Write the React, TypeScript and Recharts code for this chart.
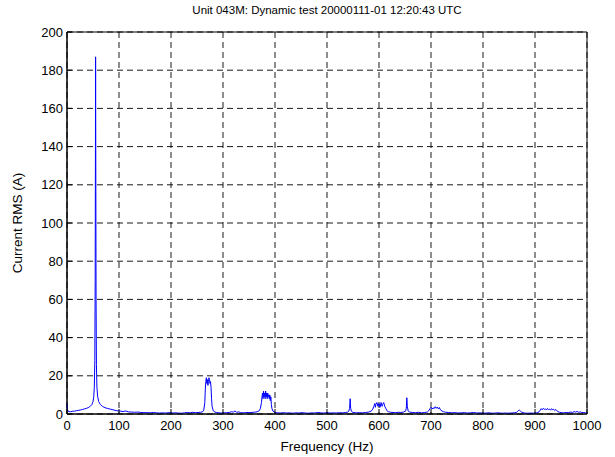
import React from 'react';
import {
  LineChart,
  Line,
  XAxis,
  YAxis,
  CartesianGrid,
  ReferenceArea,
} from 'recharts';

const title = 'Unit 043M: Dynamic test 20000111-01 12:20:43 UTC';
const xLabel = 'Frequency (Hz)';
const yLabel = 'Current RMS (A)';

const xTicks = [0, 100, 200, 300, 400, 500, 600, 700, 800, 900, 1000];
const yTicks = [0, 20, 40, 60, 80, 100, 120, 140, 160, 180, 200];

// spectrum samples (frequency in Hz, current in A)
const freqHz = [
  0, 1, 2, 4, 7, 10, 14, 18, 22, 26, 30, 34, 38, 42, 45, 48, 50, 51.5, 52.5, 53.5,
  54.2, 54.7, 55, 55.4, 55.9, 56.6, 57.5, 59, 61, 64, 68, 73, 78, 84, 90, 96, 102, 108, 113, 118,
  124, 130, 136, 142, 148, 154, 160, 166, 172, 178, 184, 190, 196, 202, 208, 214, 220, 226, 232, 237,
  242, 247, 252, 257, 261, 263, 265, 266, 267, 268, 269, 270, 271, 272, 273, 274, 275, 276, 277, 278,
  279, 281, 283, 287, 292, 297, 302, 307, 312, 316, 320, 323, 326, 330, 334, 340, 346, 352, 358, 363,
  367, 370, 372, 374, 375, 376, 377, 378, 379, 380, 381, 382, 383, 384, 385, 386, 387, 388, 389, 390,
  391, 392, 393, 394, 396, 400, 405, 410, 416, 422, 428, 434, 440, 446, 452, 458, 464, 470, 476, 482,
  488, 494, 500, 506, 512, 518, 524, 530, 536, 540, 542, 543.5, 544.5, 545.5, 547, 550, 556, 562, 568, 574,
  580, 585, 588, 590, 592, 593, 594, 596, 598, 600, 602, 604, 606, 607, 609, 611, 613, 615, 618, 622,
  627, 632, 637, 642, 647, 651, 652.5, 653.5, 654.5, 656, 659, 664, 670, 676, 682, 688, 693, 696, 698, 700,
  702, 704, 706, 708, 710, 712, 714, 716, 718, 721, 724, 728, 734, 740, 746, 752, 758, 764, 770, 776,
  782, 788, 794, 800, 806, 812, 818, 824, 830, 836, 842, 848, 854, 860, 864, 866, 868, 870, 872, 875,
  880, 886, 892, 898, 904, 908, 910, 912, 914, 916, 918, 920, 922, 924, 926, 928, 930, 932, 934, 936,
  938, 940, 942, 944, 947, 950, 955, 960, 964, 968, 972, 975, 978, 981, 984, 987, 990, 994, 997, 1000,
];

const rmsA = [
  5.5, 2.2, 1.5, 1.3, 1.2, 1.4, 1.5, 1.7, 1.9, 2.1, 2.4, 2.7, 3.0, 3.5, 4.1, 5.0, 6.5, 9, 14, 28,
  70, 140, 187, 130, 60, 26, 14, 9, 6.5, 5, 4, 3.3, 2.9, 2.5, 2.1, 1.7, 1.5, 1.3, 1.6, 1.1,
  1.0, 0.9, 1.0, 0.8, 0.7, 0.7, 0.6, 0.8, 0.6, 0.5, 0.6, 0.5, 0.7, 0.5, 0.6, 0.5, 0.4, 0.6, 0.8, 0.6,
  0.9, 0.7, 0.8, 0.9, 1.2, 2, 6, 13, 17, 19, 16, 18, 15, 17, 19, 18, 16, 17, 14, 8,
  4, 2, 1.2, 0.8, 0.6, 0.5, 0.6, 0.7, 0.8, 1.2, 1.0, 1.6, 0.9, 1.1, 0.7, 0.6, 0.8, 0.7, 0.9, 1.0,
  1.3, 1.8, 3, 6, 9, 11, 8, 12, 9, 11, 8, 12, 9, 11, 8, 11, 9, 10, 8, 10,
  7, 9, 5, 3, 1.5, 0.8, 0.6, 0.5, 0.7, 0.5, 0.6, 0.4, 0.6, 0.5, 0.7, 0.5, 0.4, 0.6, 0.5, 0.8,
  0.6, 0.5, 0.7, 0.5, 0.6, 0.5, 0.7, 0.6, 0.8, 1.0, 1.5, 3, 8, 3, 1.4, 0.8, 0.6, 0.7, 0.6, 0.8,
  1.0, 1.5, 2.5, 4, 5.5, 3.5, 5, 6, 4, 5.5, 3.5, 6, 4, 5, 6, 4, 3, 1.8, 1.2, 0.9,
  0.8, 0.7, 0.9, 0.8, 1.0, 1.5, 3, 8.5, 4, 1.6, 1.0, 0.8, 0.7, 0.9, 0.6, 0.8, 1.0, 1.8, 2.8, 3.5,
  2.6, 3.2, 2.8, 3.8, 3.0, 3.6, 2.7, 3.4, 2.2, 1.6, 1.2, 0.9, 0.8, 0.6, 0.7, 0.5, 0.6, 0.7, 0.5, 0.6,
  0.8, 0.5, 0.6, 0.4, 0.5, 0.6, 0.4, 0.5, 0.6, 0.4, 0.5, 0.4, 0.5, 0.6, 0.8, 1.2, 1.8, 2.0, 1.5, 0.8,
  0.5, 0.4, 0.5, 0.4, 0.6, 1.2, 2.0, 2.8, 2.2, 3.0, 2.4, 2.7, 2.1, 2.9, 2.3, 2.6, 2.0, 2.8, 2.2, 2.5,
  1.8, 2.3, 1.7, 1.3, 0.9, 0.7, 0.6, 0.8, 0.7, 1.0, 0.8, 1.2, 1.0, 1.3, 0.9, 1.1, 0.8, 0.7, 0.6, 0.5,
];

const data = freqHz.map((f, i) => ({ f, a: rmsA[i] }));

const font = 'Arial, "Liberation Sans", Helvetica, sans-serif';
const tickStyle = { fontSize: 13, fill: '#000', fontFamily: font };

export default function App() {
  return (
    <div style={{ position: 'absolute', left: 0, top: 0, width: 615, height: 457, background: '#fff' }}>
      <div
        style={{
          position: 'absolute',
          left: 67,
          width: 520,
          top: 4,
          textAlign: 'center',
          fontFamily: font,
          fontSize: 11.5,
          color: '#000',
        }}
      >
        {title}
      </div>
      <div
        style={{
          position: 'absolute',
          left: 17,
          top: 223,
          transform: 'translate(-50%, -50%) rotate(-90deg)',
          whiteSpace: 'nowrap',
          fontFamily: font,
          fontSize: 13.5,
          color: '#000',
        }}
      >
        {yLabel}
      </div>
      <LineChart
        width={615}
        height={457}
        data={data}
        margin={{ top: 32, right: 28, bottom: 5, left: 27 }}
      >
        <CartesianGrid stroke="#000" strokeDasharray="6 4" strokeWidth={0.9} />
        <XAxis
          dataKey="f"
          type="number"
          domain={[0, 1000]}
          ticks={xTicks}
          interval={0}
          height={38}
          tick={tickStyle}
          tickSize={-5}
          tickMargin={12}
          tickLine={{ stroke: '#000' }}
          axisLine={{ stroke: '#000' }}
          label={{ value: xLabel, position: 'insideBottom', offset: 1, style: { fontSize: 13.5, fill: '#000', fontFamily: font } }}
        />
        <YAxis
          type="number"
          domain={[0, 200]}
          ticks={yTicks}
          interval={0}
          width={40}
          tick={tickStyle}
          tickSize={-5}
          tickMargin={9}
          tickLine={{ stroke: '#000' }}
          axisLine={{ stroke: '#000' }}
        />
        <ReferenceArea x1={0} x2={1000} y1={0} y2={200} fill="none" stroke="#000" strokeWidth={1} />
        <Line
          type="linear"
          dataKey="a"
          stroke="#0000ff"
          strokeWidth={1}
          dot={false}
          isAnimationActive={false}
        />
      </LineChart>
    </div>
  );
}
